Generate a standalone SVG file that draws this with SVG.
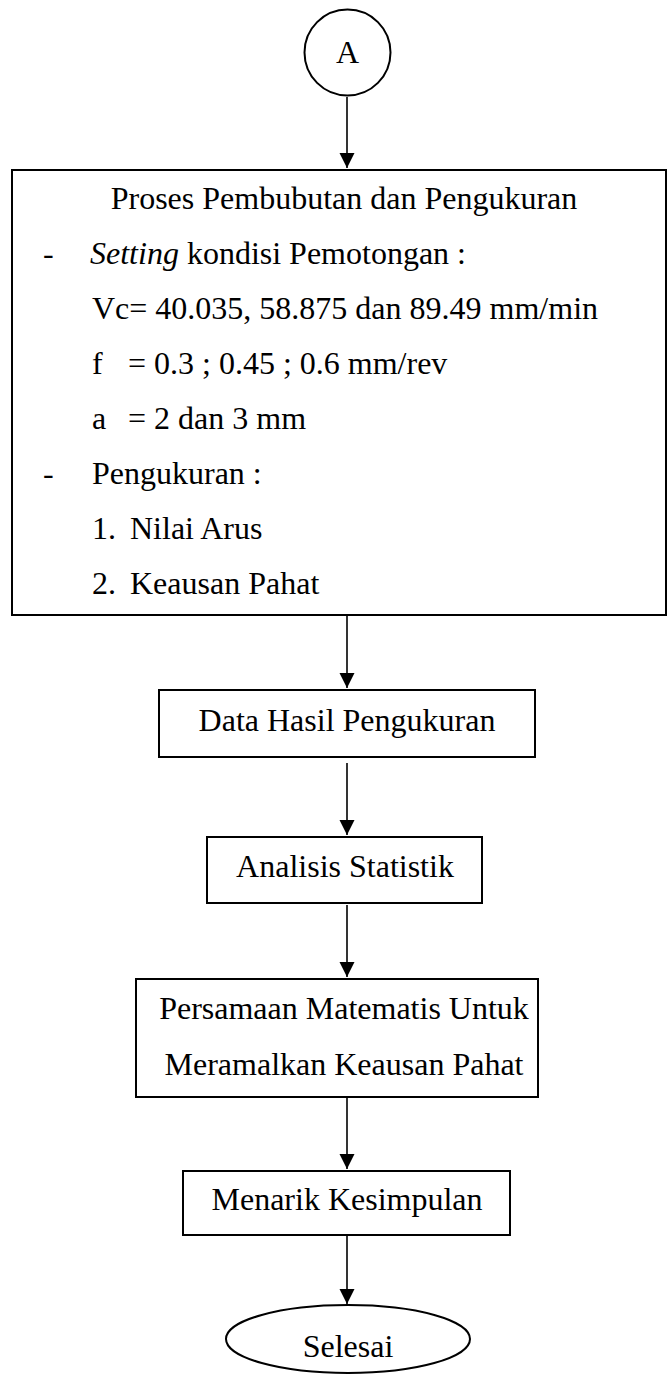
<svg xmlns="http://www.w3.org/2000/svg" width="668" height="1376" viewBox="0 0 668 1376">
  <style>
    .shape { fill: #ffffff; stroke: #000000; stroke-width: 2; }
    .wire { fill: none; stroke: #000000; stroke-width: 1.6; }
    text { font-family: "Liberation Serif", "Times New Roman", serif; font-size: 32px; fill: #000000; }
    .mid { text-anchor: middle; }
  </style>
  <defs>
    <marker id="head" markerUnits="userSpaceOnUse" markerWidth="16" markerHeight="16" refX="15" refY="7.5" orient="auto">
      <path d="M0,0 L15,7.5 L0,15 Z" fill="#000000"/>
    </marker>
  </defs>
  <rect width="668" height="1376" fill="#ffffff"/>

  <!-- connectors -->
  <g id="connectors">
    <line class="wire" x1="347" y1="97" x2="347" y2="168" marker-end="url(#head)"/>
    <line class="wire" x1="347" y1="615" x2="347" y2="688" marker-end="url(#head)"/>
    <line class="wire" x1="347" y1="763" x2="347" y2="835" marker-end="url(#head)"/>
    <line class="wire" x1="347" y1="905" x2="347" y2="977" marker-end="url(#head)"/>
    <line class="wire" x1="347" y1="1097" x2="347" y2="1169" marker-end="url(#head)"/>
    <line class="wire" x1="347" y1="1235" x2="347" y2="1304" marker-end="url(#head)"/>
  </g>

  <!-- connector A -->
  <g id="node-a">
    <circle class="shape" cx="347.5" cy="52.5" r="43"/>
    <text class="mid" x="347.5" y="63">A</text>
  </g>

  <!-- turning and measuring process -->
  <g id="node-proses">
    <rect class="shape" x="12" y="170" width="654" height="445" stroke-width="2.4"/>
    <text class="mid" x="344" y="209">Proses Pembubutan dan Pengukuran</text>
    <text x="43" y="264">-</text>
    <text x="90" y="264"><tspan font-style="italic">Setting</tspan> kondisi Pemotongan :</text>
    <text x="92" y="319">Vc= 40.035, 58.875 dan 89.49 mm/min</text>
    <text y="374"><tspan x="92">f</tspan><tspan x="128">= 0.3 ; 0.45 ; 0.6 mm/rev</tspan></text>
    <text y="429"><tspan x="92">a</tspan><tspan x="128">= 2 dan 3 mm</tspan></text>
    <text x="43" y="484">-</text>
    <text x="92" y="484">Pengukuran :</text>
    <text y="539"><tspan x="92">1.</tspan><tspan x="130">Nilai Arus</tspan></text>
    <text y="594"><tspan x="92">2.</tspan><tspan x="130">Keausan Pahat</tspan></text>
  </g>

  <g id="node-data">
    <rect class="shape" x="159" y="690" width="376" height="67"/>
    <text class="mid" x="347" y="731">Data Hasil Pengukuran</text>
  </g>

  <g id="node-analisis">
    <rect class="shape" x="207" y="837" width="275" height="66"/>
    <text class="mid" x="345" y="877">Analisis Statistik</text>
  </g>

  <g id="node-persamaan">
    <rect class="shape" x="136" y="979" width="402" height="118"/>
    <text class="mid" x="344" y="1019">Persamaan Matematis Untuk</text>
    <text class="mid" x="344" y="1075">Meramalkan Keausan Pahat</text>
  </g>

  <g id="node-kesimpulan">
    <rect class="shape" x="183" y="1171" width="327" height="64"/>
    <text class="mid" x="347" y="1210">Menarik Kesimpulan</text>
  </g>

  <g id="node-selesai">
    <ellipse class="shape" cx="348" cy="1339" rx="122" ry="34"/>
    <text class="mid" x="348" y="1357">Selesai</text>
  </g>
</svg>
